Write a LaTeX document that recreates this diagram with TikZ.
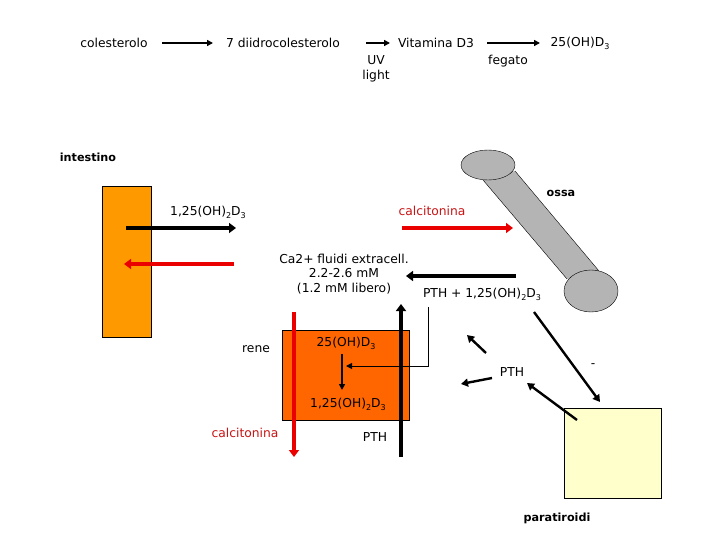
\documentclass[tikz,border=0pt]{standalone}
\usepackage{fontspec}
\setmainfont{DejaVu Sans}
\usetikzlibrary{arrows.meta,shapes.geometric}
\newcommand\lowr[1]{\raisebox{-0.45ex}{\footnotesize #1}}
\definecolor{orA}{RGB}{255,153,0}
\definecolor{orB}{RGB}{255,102,0}
\definecolor{boneg}{RGB}{180,180,180}
\definecolor{paray}{RGB}{255,255,204}
\definecolor{redA}{RGB}{235,0,0}
\definecolor{redT}{RGB}{200,20,20}
\tikzset{
  txt/.style={inner sep=1pt, font=\fontsize{12.3}{14.5}\selectfont},
  btxt/.style={inner sep=1pt, font=\fontsize{11.2}{13}\selectfont\bfseries},
  thinarr/.style={line width=1.6pt, -{Triangle[length=6pt,width=6pt]}},
  thickarr/.style={line width=4pt, -{Triangle[length=7pt,width=10pt]}},
  midarr/.style={line width=2.4pt, -{Triangle[length=7pt,width=8pt]}},
  redarr/.style={thickarr, draw=redA, color=redA},
}
\begin{document}
\begin{tikzpicture}[x=1pt,y=-1pt]
\useasboundingbox (0,0) rectangle (720,540);
% top row
\node[txt] (col) at (114,43) {colesterolo};
\node[txt] (dii) at (283,43) {7 diidrocolesterolo};
\node[txt] (vit) at (436,43) {Vitamina D3};
\node[txt] (ohd) at (580,43) {25(OH)D\lowr{3}};
\node[txt, align=center] (uv) at (376,69) {UV\\light};
\node[txt] (feg) at (508,61) {fegato};
\coordinate (t1s) at (162,43); \coordinate (t1e) at (213,43);
\coordinate (t2s) at (366,43); \coordinate (t2e) at (390,43);
\coordinate (t3s) at (487,43); \coordinate (t3e) at (540,43);
\draw[thinarr] (t1s) -- (t1e);
\draw[thinarr] (t2s) -- (t2e);
\draw[thinarr] (t3s) -- (t3e);
% intestine
\node[btxt] (int) at (88,157) {intestino};
\node[draw, fill=orA, minimum width=49pt, minimum height=151pt, inner sep=0pt] (intb) at (126.5,261.5) {};
\coordinate (i1s) at (126,228); \coordinate (i1e) at (236,228);
\draw[thickarr] (i1s) -- (i1e);
\node[txt] (l125a) at (208,212) {1,25(OH)\lowr{2}D\lowr{3}};
\coordinate (i2s) at (234,264); \coordinate (i2e) at (124,264);
\draw[redarr] (i2s) -- (i2e);
% bone
\coordinate (bt) at (488,165);
\coordinate (bb) at (591,291);
\fill[boneg] (483,180) -- (567,279) -- (599,271) -- (515,171) -- cycle;
\draw (483,180) -- (567,279) (599,271) -- (515,171);
\node[draw, fill=boneg, ellipse, minimum width=54pt, minimum height=30pt, inner sep=0pt] (bone1) at (bt) {};
\node[draw, fill=boneg, ellipse, minimum width=54pt, minimum height=42pt, inner sep=0pt] (bone2) at (bb) {};
\node[btxt] (ossa) at (561,193) {ossa};
\node[txt, text=redT] (calc1) at (432,211) {calcitonina};
\coordinate (c1s) at (402,228); \coordinate (c1e) at (513,228);
\draw[redarr] (c1s) -- (c1e);
% Ca pool
\node[txt, align=center] (ca) at (344,274) {Ca2+ fluidi extracell.\\2.2-2.6 mM\\(1.2 mM libero)};
\coordinate (p1s) at (516,276); \coordinate (p1e) at (406,276);
\draw[thickarr] (p1s) -- (p1e);
\node[txt] (pth125) at (482,294) {PTH + 1,25(OH)\lowr{2}D\lowr{3}};
% kidney
\node[draw, fill=orB, minimum width=127pt, minimum height=90pt, inner sep=0pt] (ren) at (345.5,375) {};
\node[txt] (rene) at (256,349) {rene};
\node[txt] (k25) at (346,343) {25(OH)D\lowr{3}};
\node[txt] (k125) at (348,404) {1,25(OH)\lowr{2}D\lowr{3}};
\coordinate (kds) at (342,354); \coordinate (kde) at (342,390);
\draw[line width=1.6pt, -{Triangle[length=6pt,width=6pt]}] (kds) -- (kde);
\coordinate (ls) at (428,307); \coordinate (lc) at (428,366); \coordinate (le) at (346,366);
\draw[line width=1pt, -{Triangle[length=6pt,width=6pt]}] (ls) -- (lc) -- (le);
\coordinate (rvs) at (294,312); \coordinate (rve) at (294,457);
\draw[redarr] (rvs) -- (rve);
\node[txt, text=redT] (calc2) at (245,433) {calcitonina};
\coordinate (bvs) at (401,457); \coordinate (bve) at (401,304);
\draw[thickarr] (bvs) -- (bve);
\node[txt] (pth2) at (375,437) {PTH};
% parathyroid
\node[txt] (pth3) at (512,372) {PTH};
\node[draw, fill=paray, minimum width=97pt, minimum height=90pt, inner sep=0pt] (para) at (612.5,453) {};
\node[btxt] (parl) at (557,518) {paratiroidi};
\coordinate (a1s) at (486,353); \coordinate (a1e) at (467,335);
\coordinate (a2s) at (492,378); \coordinate (a2e) at (461,384);
\coordinate (a3s) at (577,420); \coordinate (a3e) at (527,383);
\coordinate (a4s) at (534,312); \coordinate (a4e) at (600,402);
\draw[midarr] (a1s) -- (a1e);
\draw[midarr] (a2s) -- (a2e);
\draw[midarr] (a3s) -- (a3e);
\draw[midarr] (a4s) -- (a4e);
\node[txt] (minus) at (593,366) {-};
\end{tikzpicture}
\end{document}
